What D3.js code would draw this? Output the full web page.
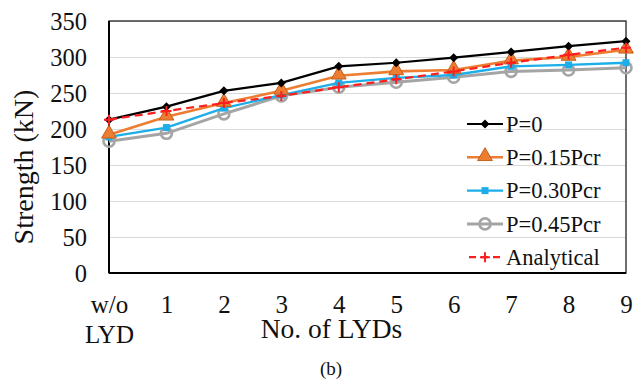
<!DOCTYPE html>
<html>
<head>
<meta charset="utf-8">
<script src="https://cdn.jsdelivr.net/npm/d3@7"></script>
<style>
  body { margin: 0; background: #fff; }
  svg { display: block; font-family: "Liberation Serif", "Times New Roman", serif; }
  .grid line { stroke: #d9d9d9; stroke-width: 1; }
  .grid path { display: none; }
  .axis path { display: none; }
  .axis text { fill: #111; font-family: "Liberation Serif", serif; }
</style>
</head>
<body>
<div id="chart"></div>
<script>
// categories on the x axis
const categories = ['w/o LYD', '1', '2', '3', '4', '5', '6', '7', '8', '9'];
const yTicks = [0, 50, 100, 150, 200, 250, 300, 350];

// strength values (kN)
const p0 = [213, 231, 253, 264, 287, 292, 299, 307, 315, 322];
const p015 = [192, 217, 236, 253, 274, 280, 282, 295, 300, 310];
const p030 = [189, 202, 229, 247, 264, 271, 275, 287, 289, 292];
const p045 = [183, 194, 221, 246, 258, 265, 272, 280, 282, 285];
const analytical = [213, 225, 236, 246, 258, 269, 280, 292, 303, 313];

const seriesNames = ['P=0', 'P=0.15Pcr', 'P=0.30Pcr', 'P=0.45Pcr', 'Analytical'];
const seriesValues = [p0, p015, p030, p045, analytical];

const W = 640, H = 381;
const margin = {top: 21, right: 14, bottom: 108, left: 109};
const width = W - margin.left - margin.right;
const height = H - margin.top - margin.bottom;

const xScale = d3.scalePoint().domain(categories).range([0, width]);
const yScale = d3.scaleLinear().domain([0, 350]).range([height, 0]);

const svg = d3.select('#chart').append('svg')
    .attr('width', W)
    .attr('height', H);

const g = svg.append('g')
    .attr('transform', 'translate(' + margin.left + ',' + margin.top + ')');

// gridlines
g.append('g')
    .attr('class', 'grid')
    .call(d3.axisLeft(yScale).tickValues(yTicks.slice(1)).tickSize(-width).tickFormat(''));

// frame
g.append('rect')
    .attr('width', width).attr('height', height)
    .attr('fill', 'none').attr('stroke', '#222').attr('stroke-width', 1.3);
g.append('line').attr('x1', 0).attr('x2', 0).attr('y1', 0).attr('y2', height)
    .attr('stroke', '#000').attr('stroke-width', 2);
g.append('line').attr('x1', 0).attr('x2', width).attr('y1', height).attr('y2', height)
    .attr('stroke', '#000').attr('stroke-width', 2);

// axes
g.append('g')
    .attr('class', 'axis')
    .call(d3.axisLeft(yScale).tickValues(yTicks).tickSize(0).tickPadding(22))
    .selectAll('text')
    .style('font-size', '24.5px')
    .attr('dy', '0.36em');

const xAxis = g.append('g')
    .attr('class', 'axis')
    .attr('transform', 'translate(0,' + height + ')')
    .call(d3.axisBottom(xScale).tickSize(0).tickPadding(0).tickFormat(''));

xAxis.selectAll('.tick').each(function(d) {
    const t = d3.select(this).append('text')
        .attr('text-anchor', 'middle')
        .style('font-size', '25px')
        .attr('y', 40);
    d.split(' ').forEach(function(w, i) {
        t.append('tspan').attr('x', 0).attr('dy', i ? 30 : 0).text(w);
    });
});

// axis titles
svg.append('text')
    .attr('transform', 'translate(33,' + 167 + ') rotate(-90)')
    .attr('text-anchor', 'middle')
    .style('font-size', '28px')
    .attr('fill', '#111')
    .text('Strength (kN)');

svg.append('text')
    .attr('x', 331.5).attr('y', 338)
    .attr('text-anchor', 'middle')
    .style('font-size', '27.5px')
    .attr('fill', '#111')
    .text('No. of LYDs');

svg.append('text')
    .attr('x', 331).attr('y', 375)
    .attr('text-anchor', 'middle')
    .style('font-size', '19px')
    .attr('fill', '#111')
    .text('(b)');

// series styles
const styles = [
    {color: '#000000', width: 2.2, dash: null, marker: 'diamond'},
    {color: '#ED7D31', width: 2.6, dash: null, marker: 'triangle'},
    {color: '#1CAEE8', width: 2.4, dash: null, marker: 'square'},
    {color: '#A5A5A5', width: 3, dash: null, marker: 'circle'},
    {color: '#FF1E1E', width: 2.2, dash: '8,5', marker: 'plus'}
];

function drawMarker(sel, type, color) {
    if (type === 'diamond') {
        sel.append('path').attr('d', 'M0,-4.5L4.5,0L0,4.5L-4.5,0Z').attr('fill', color);
    } else if (type === 'triangle') {
        sel.append('path').attr('d', d3.symbol(d3.symbolTriangle, 95)())
            .attr('fill', '#ED7D31').attr('stroke', '#C5601E').attr('stroke-width', 1)
            .attr('transform', 'translate(0,-1)');
    } else if (type === 'square') {
        sel.append('rect').attr('x', -3.5).attr('y', -3.5).attr('width', 7).attr('height', 7)
            .attr('fill', color);
    } else if (type === 'circle') {
        sel.append('circle').attr('r', 5.5).attr('fill', 'none')
            .attr('stroke', color).attr('stroke-width', 2.6);
    } else if (type === 'plus') {
        sel.append('path').attr('d', 'M-5,0H5M0,-5V5').attr('stroke', color).attr('stroke-width', 2);
    }
}

const line = d3.line()
    .x(function(d, i) { return xScale(categories[i]); })
    .y(function(d) { return yScale(d); });

// draw in back-to-front order
[3, 2, 1, 0, 4].forEach(function(s) {
    const st = styles[s];
    g.append('path')
        .datum(seriesValues[s])
        .attr('fill', 'none')
        .attr('stroke', st.color)
        .attr('stroke-width', st.width)
        .attr('stroke-dasharray', st.dash)
        .attr('d', line);
    g.selectAll('.m' + s)
        .data(seriesValues[s])
        .enter().append('g')
        .attr('class', 'm' + s)
        .attr('transform', function(d, i) {
            return 'translate(' + xScale(categories[i]) + ',' + yScale(d) + ')';
        })
        .each(function() { drawMarker(d3.select(this), st.marker, st.color); });
});

// legend
const legend = svg.append('g').attr('transform', 'translate(467,124)');
seriesNames.forEach(function(name, i) {
    const st = styles[i];
    const row = legend.append('g').attr('transform', 'translate(0,' + (i * 33.3) + ')');
    row.append('line').attr('x1', 0).attr('x2', 36)
        .attr('stroke', st.color).attr('stroke-width', st.width)
        .attr('stroke-dasharray', st.dash ? '7,5' : null)
        .attr('stroke-dashoffset', st.dash ? -2 : null);
    const mk = row.append('g').attr('transform', 'translate(18,0)');
    drawMarker(mk, st.marker, st.color);
    row.append('text').attr('x', 39).attr('y', 0).attr('dy', '0.35em')
        .style('font-size', '22.5px').attr('fill', '#111').text(name);
});
</script>
</body>
</html>
